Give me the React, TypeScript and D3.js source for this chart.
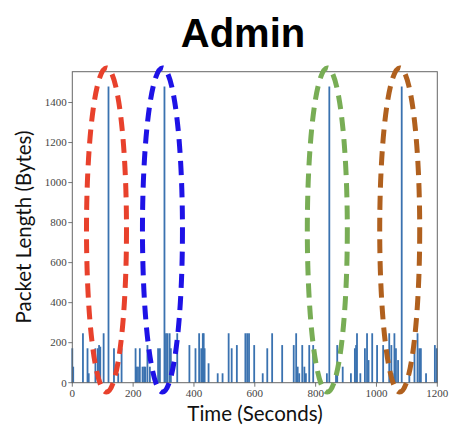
import React from "react";
import * as d3 from "d3";

const times = [0, 3, 35, 50, 54, 76, 84, 88, 92, 103, 119, 137, 151, 162, 208, 211, 216, 222, 231, 236, 240, 247, 255, 282, 288, 303, 308, 313, 320, 324, 345, 385, 405, 417, 424, 429, 432, 435, 448, 478, 494, 514, 524, 541, 569, 575, 581, 598, 626, 641, 657, 690, 728, 736, 741, 746, 756, 763, 768, 779, 792, 837, 845, 867, 871, 889, 916, 929, 933, 936, 947, 962, 969, 974, 986, 1002, 1022, 1042, 1049, 1053, 1059, 1064, 1071, 1083, 1108, 1125, 1135, 1141, 1146, 1163, 1192, 1198];
const lengths = [172, 80, 247, 172, 47, 172, 172, 188, 180, 247, 1480, 172, 47, 172, 172, 80, 80, 172, 80, 80, 80, 188, 80, 172, 172, 1480, 247, 247, 247, 172, 247, 188, 172, 247, 172, 247, 247, 172, 97, 47, 47, 247, 172, 188, 247, 247, 247, 188, 47, 172, 247, 188, 188, 247, 80, 47, 188, 80, 47, 188, 188, 47, 1480, 63, 188, 80, 47, 172, 188, 247, 47, 172, 247, 113, 247, 188, 188, 247, 188, 47, 247, 172, 113, 1480, 47, 188, 247, 172, 172, 47, 188, 172];

const xTicks = [0, 200, 400, 600, 800, 1000, 1200];
const yTicks = [0, 200, 400, 600, 800, 1000, 1200, 1400];

const highlightTimes = [119, 303, 845, 1083];
const highlightColors = ["#e8412c", "#1e12e6", "#78ad55", "#b0601e"];

const W = 449, H = 427;
const M = { left: 72.3, right: 437.3, top: 71.7, bottom: 382.7 };

export default function App() {
  const x = d3.scaleLinear().domain([0, 1200]).range([M.left, M.right]);
  const y = d3.scaleLinear().domain([0, 1554]).range([M.bottom, M.top]);
  const barColor = "#3a72b0";
  const bw = 1.8;
  const ellTop = y(1573);
  const ellBot = y(-47);
  const serif = "'Liberation Serif', 'Times New Roman', serif";
  return (
    <svg width={W} height={H} style={{ position: "absolute", left: 0, top: 0, background: "#fff" }}>
      <text x={243} y={46.5} textAnchor="middle" fontFamily="'Liberation Sans', Arial, sans-serif" fontWeight="bold" fontSize={40} fill="#000">Admin</text>
      {times.map((t, i) => (
        <rect key={i} x={x(t) - bw / 2} y={y(lengths[i])} width={bw} height={y(0) - y(lengths[i])} fill={barColor} />
      ))}
      <rect x={M.left} y={M.top} width={M.right - M.left} height={M.bottom - M.top} fill="none" stroke="#666" strokeWidth={1} />
      {xTicks.map((t) => (
        <g key={"x" + t}>
          <line x1={x(t)} x2={x(t)} y1={M.bottom} y2={M.bottom + 4} stroke="#555" strokeWidth={0.8} />
          <text x={x(t)} y={397} textAnchor="middle" fontFamily={serif} fontSize={11} fill="#444">{t}</text>
        </g>
      ))}
      {yTicks.map((t) => (
        <g key={"y" + t}>
          <line x1={M.left - 4} x2={M.left} y1={y(t)} y2={y(t)} stroke="#555" strokeWidth={0.8} />
          <text x={M.left - 5.5} y={y(t) + 3.8} textAnchor="end" fontFamily={serif} fontSize={11} fill="#444">{t}</text>
        </g>
      ))}
      {highlightTimes.map((t, i) => (
        <ellipse key={"e" + i} cx={x(t) - 2} cy={(ellTop + ellBot) / 2} rx={20} ry={(ellBot - ellTop) / 2}
          fill="none" stroke={highlightColors[i]} strokeWidth={5} strokeDasharray="14 8" />
      ))}
      <text x={255} y={421} textAnchor="middle" fontFamily="Lato, sans-serif" fontSize={20.5} fill="#111">Time (Seconds)</text>
      <text transform={`translate(31,227) rotate(-90)`} textAnchor="middle" fontFamily="Lato, sans-serif" fontSize={20.5} fill="#111">Packet Length (Bytes)</text>
    </svg>
  );
}
